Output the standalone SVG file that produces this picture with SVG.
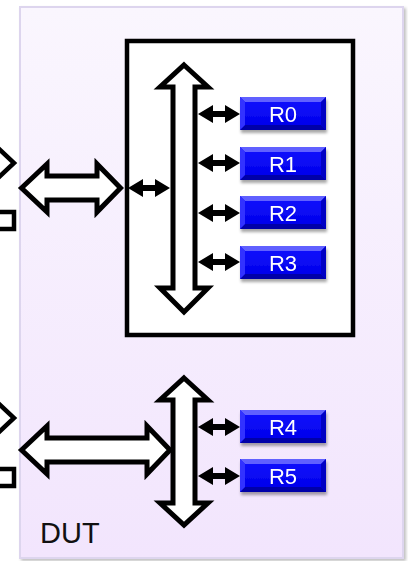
<svg xmlns="http://www.w3.org/2000/svg" width="408" height="561" viewBox="0 0 408 561">
  <defs>
    <linearGradient id="dutFill" x1="0" y1="0" x2="0" y2="1">
      <stop offset="0" stop-color="#faf6fe"/>
      <stop offset="1" stop-color="#f2e5fd"/>
    </linearGradient>
    <linearGradient id="regFill" x1="0" y1="0" x2="0" y2="1">
      <stop offset="0" stop-color="#1010ff"/>
      <stop offset="1" stop-color="#0000e8"/>
    </linearGradient>
    <filter id="boxShadow" x="-10%" y="-10%" width="125%" height="125%">
      <feDropShadow dx="2" dy="2" stdDeviation="1.5" flood-color="#000" flood-opacity="0.25"/>
    </filter>
    <filter id="regShadow" x="-10%" y="-20%" width="125%" height="160%">
      <feDropShadow dx="1" dy="3" stdDeviation="1.5" flood-color="#000" flood-opacity="0.35"/>
    </filter>
    <!-- beveled register block, 86 x 33 -->
    <g id="reg">
      <rect x="0" y="0" width="86" height="33" fill="url(#regFill)"/>
      <polygon points="0,0 86,0 81,5 5,5" fill="#6060ff"/>
      <polygon points="0,33 86,33 81,28 5,28" fill="#0000a8"/>
      <polygon points="0,0 5,5 5,28 0,33" fill="#3030ff"/>
      <polygon points="86,0 81,5 81,28 86,33" fill="#0000c4"/>
    </g>
    <!-- small solid double arrow, 42 wide, centred on y=0 -->
    <path id="link" d="M0,0 L15,-9 L15,-3 L27,-3 L27,-9 L42,0 L27,9 L27,3 L15,3 L15,9 Z"/>
  </defs>
  <style>
    .bus { fill: #fff; stroke: #000; stroke-width: 5; stroke-linejoin: miter; stroke-miterlimit: 10; }
    .frame { fill: #fff; stroke: #000; stroke-width: 4.5; }
    .stub { fill: none; stroke: #000; stroke-width: 4.5; }
    .lnk { fill: #000; }
    .rlabel { font-family: "Liberation Sans", Arial, sans-serif; font-size: 22px; fill: #fff; text-anchor: middle; }
    .title { font-family: "Liberation Sans", Arial, sans-serif; font-size: 29px; fill: #111; }
  </style>

  <!-- partial shapes entering from the left -->
  <g id="ext-top">
    <polyline class="stub" points="-2,148 14,163 -2,178"/>
    <rect class="stub" x="-10" y="212" width="24" height="17"/>
  </g>
  <g id="ext-bottom">
    <polyline class="stub" points="-2,403 14,418 -2,433"/>
    <rect class="stub" x="-10" y="469" width="24" height="17"/>
  </g>

  <!-- device under test -->
  <g id="dut">
    <rect x="20" y="7" width="383" height="551" fill="url(#dutFill)" stroke="#ddd5ee" stroke-width="2" filter="url(#boxShadow)"/>
    <text class="title" x="40" y="543">DUT</text>
  </g>

  <!-- register block frame -->
  <g id="block">
    <rect class="frame" x="127" y="41" width="226" height="294"/>
  </g>

  <!-- connectors -->
  <g id="connectors">
    <!-- upper external bus -->
    <path class="bus" d="M21.5,188 L47,164 L47,176 L97,176 L97,164 L120.5,188 L97,212 L97,200 L47,200 L47,212 Z"/>
    <!-- upper internal bus -->
    <path class="bus" d="M184,65 L208,87 L195,87 L195,288 L208,288 L184,312 L160,288 L173,288 L173,87 L160,87 Z"/>
    <!-- lower external bus -->
    <path class="bus" d="M21.5,450 L47,426 L47,438 L147,438 L147,426 L170,450 L147,474 L147,462 L47,462 L47,474 Z"/>
    <!-- lower internal bus -->
    <path class="bus" d="M184,378 L208,400 L195,400 L195,503 L208,503 L184,525 L160,503 L173,503 L173,400 L160,400 Z"/>

    <!-- register links -->
    <use href="#link" class="lnk" x="128" y="188"/>
    <use href="#link" class="lnk" x="198" y="114"/>
    <use href="#link" class="lnk" x="198" y="163"/>
    <use href="#link" class="lnk" x="198" y="213"/>
    <use href="#link" class="lnk" x="198" y="262"/>
    <use href="#link" class="lnk" x="198" y="427"/>
    <use href="#link" class="lnk" x="198" y="476"/>
  </g>

  <!-- registers -->
  <g id="R0" filter="url(#regShadow)"><use href="#reg" x="240" y="97"/><text class="rlabel" x="283" y="121.5">R0</text></g>
  <g id="R1" filter="url(#regShadow)"><use href="#reg" x="240" y="147"/><text class="rlabel" x="283" y="171.5">R1</text></g>
  <g id="R2" filter="url(#regShadow)"><use href="#reg" x="240" y="196"/><text class="rlabel" x="283" y="220.5">R2</text></g>
  <g id="R3" filter="url(#regShadow)"><use href="#reg" x="240" y="246"/><text class="rlabel" x="283" y="270.5">R3</text></g>
  <g id="R4" filter="url(#regShadow)"><use href="#reg" x="240" y="410"/><text class="rlabel" x="283" y="434.5">R4</text></g>
  <g id="R5" filter="url(#regShadow)"><use href="#reg" x="240" y="459"/><text class="rlabel" x="283" y="483.5">R5</text></g>
</svg>
